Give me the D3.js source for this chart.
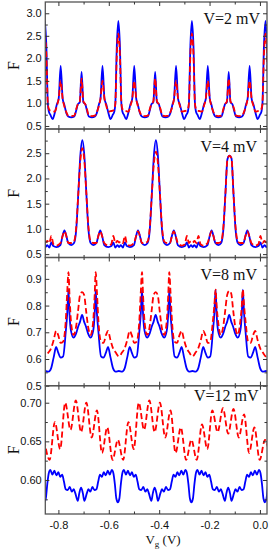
<!DOCTYPE html>
<html>
<head>
<meta charset="utf-8">
<script src="https://cdn.jsdelivr.net/npm/d3@7"></script>
<style>
body { margin: 0; background: #fff; }
</style>
</head>
<body>
<svg id="chart" width="270" height="557"></svg>
<script>
// V = 2 mV
var vg1 = [-0.854, -0.848, -0.842, -0.838, -0.832, -0.823, -0.814, -0.806, -0.799, -0.791, -0.783, -0.777, -0.768, -0.761, -0.749, -0.737, -0.729, -0.723, -0.715, -0.708, -0.701, -0.693, -0.687, -0.679, -0.667, -0.655, -0.648, -0.639, -0.633, -0.625, -0.617, -0.610, -0.602, -0.593, -0.584, -0.578, -0.574, -0.568,
  -0.562, -0.556, -0.550, -0.546, -0.540, -0.531, -0.522, -0.514, -0.507, -0.499, -0.491, -0.485, -0.476, -0.469, -0.457, -0.445, -0.437, -0.431, -0.423, -0.416, -0.409, -0.401, -0.395, -0.387, -0.375, -0.363, -0.356, -0.347, -0.341, -0.333, -0.325, -0.318, -0.310, -0.301, -0.292, -0.286, -0.282, -0.276,
  -0.270, -0.264, -0.258, -0.254, -0.248, -0.239, -0.230, -0.222, -0.215, -0.207, -0.199, -0.193, -0.184, -0.177, -0.165, -0.153, -0.145, -0.139, -0.131, -0.124, -0.117, -0.109, -0.103, -0.095, -0.083, -0.071, -0.064, -0.055, -0.049, -0.041, -0.033, -0.026, -0.018, -0.009, 0.000, 0.006, 0.010, 0.016,
  0.022, 0.028, 0.034];
var blue1 = [2.83, 2.3, 1.0, 0.82, 0.75, 0.65, 0.8, 0.98, 1.1, 1.83, 1.1, 0.98, 0.78, 0.71, 0.69, 0.71, 0.85, 0.98, 1.03, 1.7, 1.03, 0.98, 0.85, 0.71, 0.69, 0.71, 0.78, 0.98, 1.1, 1.83, 1.1, 0.98, 0.8, 0.65, 0.75, 0.82, 1.0, 2.3,
  2.83, 2.3, 1.0, 0.82, 0.75, 0.65, 0.8, 0.98, 1.1, 1.83, 1.1, 0.98, 0.78, 0.71, 0.69, 0.71, 0.85, 0.98, 1.03, 1.7, 1.03, 0.98, 0.85, 0.71, 0.69, 0.71, 0.78, 0.98, 1.1, 1.83, 1.1, 0.98, 0.8, 0.65, 0.75, 0.82, 1.0, 2.3,
  2.83, 2.3, 1.0, 0.82, 0.75, 0.65, 0.8, 0.98, 1.1, 1.83, 1.1, 0.98, 0.78, 0.71, 0.69, 0.71, 0.85, 0.98, 1.03, 1.7, 1.03, 0.98, 0.85, 0.71, 0.69, 0.71, 0.78, 0.98, 1.1, 1.83, 1.1, 0.98, 0.8, 0.65, 0.75, 0.82, 1.0, 2.3,
  2.83, 2.3, 1.0];
var red1 = [2.55, 2.1, 1.0, 0.88, 0.84, 0.83, 0.82, 0.95, 1.1, 1.5, 1.1, 0.95, 0.8, 0.73, 0.72, 0.73, 0.88, 0.98, 1.05, 1.55, 1.05, 0.98, 0.88, 0.73, 0.72, 0.73, 0.8, 0.95, 1.1, 1.5, 1.1, 0.95, 0.82, 0.83, 0.84, 0.88, 1.0, 2.1,
  2.55, 2.1, 1.0, 0.88, 0.84, 0.83, 0.82, 0.95, 1.1, 1.5, 1.1, 0.95, 0.8, 0.73, 0.72, 0.73, 0.88, 0.98, 1.05, 1.55, 1.05, 0.98, 0.88, 0.73, 0.72, 0.73, 0.8, 0.95, 1.1, 1.5, 1.1, 0.95, 0.82, 0.83, 0.84, 0.88, 1.0, 2.1,
  2.55, 2.1, 1.0, 0.88, 0.84, 0.83, 0.82, 0.95, 1.1, 1.5, 1.1, 0.95, 0.8, 0.73, 0.72, 0.73, 0.88, 0.98, 1.05, 1.55, 1.05, 0.98, 0.88, 0.73, 0.72, 0.73, 0.8, 0.95, 1.1, 1.5, 1.1, 0.95, 0.82, 0.83, 0.84, 0.88, 1.0, 2.1,
  2.55, 2.1, 1.0];

// V = 4 mV
var vg2 = [-0.858, -0.851, -0.844, -0.836, -0.828, -0.820, -0.808, -0.792, -0.784, -0.776, -0.768, -0.761, -0.749, -0.738, -0.729, -0.721, -0.713,
  -0.705, -0.697, -0.689, -0.681, -0.672, -0.661, -0.649, -0.642, -0.634, -0.626, -0.618, -0.602, -0.590, -0.582, -0.574, -0.566, -0.559, -0.552, -0.544, -0.536, -0.528, -0.516, -0.500, -0.492, -0.484, -0.476, -0.469, -0.457, -0.446, -0.437, -0.429, -0.421,
  -0.413, -0.405, -0.397, -0.389, -0.380, -0.369, -0.357, -0.350, -0.342, -0.334, -0.326, -0.310, -0.298, -0.290, -0.282, -0.274, -0.267, -0.260, -0.252, -0.244, -0.236, -0.224, -0.208, -0.200, -0.192, -0.184, -0.177, -0.165, -0.154, -0.145, -0.137, -0.129,
  -0.121, -0.113, -0.105, -0.097, -0.088, -0.077, -0.065, -0.058, -0.050, -0.042, -0.034, -0.018, -0.006, 0.002, 0.010, 0.018, 0.025, 0.032];
var blue2 = [0.68, 0.64, 0.68, 0.63, 0.73, 0.66, 0.64, 0.68, 0.85, 0.97, 0.85, 0.72, 0.68, 0.72, 1.0, 1.7, 2.45,
  2.76, 2.45, 1.7, 1.0, 0.72, 0.68, 0.72, 0.85, 0.97, 0.85, 0.68, 0.64, 0.66, 0.73, 0.63, 0.68, 0.64, 0.68, 0.63, 0.73, 0.66, 0.64, 0.68, 0.85, 0.97, 0.85, 0.72, 0.68, 0.72, 1.0, 1.7, 2.45,
  2.76, 2.45, 1.7, 1.0, 0.72, 0.68, 0.72, 0.85, 0.97, 0.85, 0.68, 0.64, 0.66, 0.73, 0.63, 0.68, 0.64, 0.68, 0.63, 0.73, 0.66, 0.64, 0.68, 0.85, 0.97, 0.85, 0.72, 0.68, 0.72, 1.0, 1.7, 2.38,
  2.45, 2.4, 1.7, 1.0, 0.72, 0.68, 0.72, 0.85, 0.97, 0.85, 0.68, 0.64, 0.66, 0.73, 0.63, 0.68, 0.64, 0.68];
var red2 = [0.76, 0.73, 0.76, 0.72, 0.86, 0.7, 0.67, 0.72, 0.85, 0.95, 0.85, 0.72, 0.72, 0.75, 1.05, 1.7, 2.35,
  2.6, 2.35, 1.7, 1.05, 0.75, 0.72, 0.72, 0.85, 0.95, 0.85, 0.72, 0.67, 0.7, 0.86, 0.72, 0.76, 0.73, 0.76, 0.72, 0.86, 0.7, 0.67, 0.72, 0.85, 0.95, 0.85, 0.72, 0.72, 0.75, 1.05, 1.7, 2.3,
  2.53, 2.3, 1.7, 1.05, 0.75, 0.72, 0.72, 0.85, 0.95, 0.85, 0.72, 0.67, 0.7, 0.86, 0.72, 0.76, 0.73, 0.76, 0.72, 0.86, 0.7, 0.67, 0.72, 0.85, 0.95, 0.85, 0.72, 0.72, 0.75, 1.05, 1.7, 2.38,
  2.45, 2.4, 1.7, 1.05, 0.75, 0.72, 0.72, 0.85, 0.95, 0.85, 0.72, 0.67, 0.7, 0.86, 0.72, 0.76, 0.73, 0.76];

// V = 8 mV
var vg3 = [-0.865, -0.852, -0.839, -0.829, -0.819, -0.809, -0.801, -0.791, -0.781, -0.771, -0.765, -0.760, -0.756, -0.750, -0.740, -0.730, -0.722, -0.714,
  -0.706, -0.698, -0.690, -0.682, -0.672, -0.662, -0.656, -0.652, -0.647, -0.641, -0.631, -0.621, -0.611, -0.603, -0.593, -0.583, -0.573, -0.560, -0.547, -0.537, -0.527, -0.517, -0.509, -0.499, -0.489, -0.479, -0.473, -0.468, -0.464, -0.458, -0.448, -0.438, -0.430, -0.422,
  -0.414, -0.406, -0.398, -0.390, -0.380, -0.370, -0.364, -0.360, -0.355, -0.349, -0.339, -0.329, -0.319, -0.311, -0.301, -0.291, -0.281, -0.268, -0.255, -0.245, -0.235, -0.225, -0.217, -0.207, -0.197, -0.187, -0.181, -0.176, -0.172, -0.166, -0.156, -0.146, -0.138, -0.130,
  -0.122, -0.114, -0.106, -0.098, -0.088, -0.078, -0.072, -0.068, -0.063, -0.057, -0.047, -0.037, -0.027, -0.019, -0.009, 0.001, 0.011, 0.024, 0.037];
var blue3 = [0.553, 0.555, 0.553, 0.565, 0.605, 0.645, 0.625, 0.605, 0.61, 0.7, 0.77, 0.86, 0.77, 0.705, 0.68, 0.695, 0.72, 0.74,
  0.765, 0.74, 0.72, 0.695, 0.68, 0.705, 0.77, 0.86, 0.77, 0.7, 0.61, 0.605, 0.625, 0.645, 0.605, 0.565, 0.553, 0.555, 0.553, 0.565, 0.605, 0.645, 0.625, 0.605, 0.61, 0.7, 0.77, 0.86, 0.77, 0.705, 0.68, 0.695, 0.72, 0.74,
  0.765, 0.74, 0.72, 0.695, 0.68, 0.705, 0.77, 0.86, 0.77, 0.7, 0.61, 0.605, 0.625, 0.645, 0.605, 0.565, 0.553, 0.555, 0.553, 0.565, 0.605, 0.645, 0.625, 0.605, 0.61, 0.7, 0.77, 0.86, 0.77, 0.705, 0.68, 0.695, 0.72, 0.74,
  0.765, 0.74, 0.72, 0.695, 0.68, 0.705, 0.77, 0.86, 0.77, 0.7, 0.61, 0.605, 0.625, 0.645, 0.605, 0.565, 0.553, 0.555, 0.553];
var red3 = [0.625, 0.61, 0.625, 0.64, 0.67, 0.705, 0.69, 0.66, 0.665, 0.74, 0.85, 0.925, 0.84, 0.74, 0.69, 0.72, 0.78, 0.84,
  0.85, 0.84, 0.78, 0.72, 0.69, 0.74, 0.84, 0.925, 0.85, 0.74, 0.665, 0.66, 0.69, 0.705, 0.67, 0.64, 0.625, 0.61, 0.625, 0.64, 0.67, 0.705, 0.69, 0.66, 0.665, 0.74, 0.85, 0.925, 0.84, 0.74, 0.69, 0.72, 0.78, 0.84,
  0.85, 0.84, 0.78, 0.72, 0.69, 0.74, 0.84, 0.925, 0.85, 0.74, 0.665, 0.66, 0.69, 0.705, 0.67, 0.64, 0.625, 0.61, 0.625, 0.64, 0.67, 0.705, 0.69, 0.66, 0.665, 0.74, 0.8, 0.86, 0.8, 0.74, 0.69, 0.72, 0.78, 0.84,
  0.855, 0.845, 0.78, 0.72, 0.69, 0.74, 0.8, 0.86, 0.8, 0.74, 0.665, 0.66, 0.69, 0.705, 0.67, 0.64, 0.625, 0.61, 0.625];

// V = 12 mV
var vg4b = [-0.856, -0.850, -0.844, -0.838, -0.832, -0.824, -0.816, -0.808, -0.800, -0.793, -0.785, -0.778, -0.771, -0.763, -0.755, -0.747, -0.739, -0.733, -0.723, -0.717, -0.710, -0.703, -0.697, -0.687, -0.681, -0.673, -0.665, -0.657, -0.649, -0.642, -0.635, -0.627, -0.620, -0.612, -0.604, -0.596, -0.588, -0.582, -0.576, -0.570,
  -0.564, -0.558, -0.552, -0.546, -0.540, -0.532, -0.524, -0.516, -0.508, -0.501, -0.493, -0.486, -0.479, -0.471, -0.463, -0.455, -0.447, -0.441, -0.431, -0.425, -0.418, -0.411, -0.405, -0.395, -0.389, -0.381, -0.373, -0.365, -0.357, -0.350, -0.343, -0.335, -0.328, -0.320, -0.312, -0.304, -0.296, -0.290, -0.284, -0.278,
  -0.272, -0.266, -0.260, -0.254, -0.248, -0.240, -0.232, -0.224, -0.216, -0.209, -0.201, -0.194, -0.187, -0.179, -0.171, -0.163, -0.155, -0.149, -0.139, -0.133, -0.126, -0.119, -0.113, -0.103, -0.097, -0.089, -0.081, -0.073, -0.065, -0.058, -0.051, -0.043, -0.036, -0.028, -0.020, -0.012, -0.004, 0.002, 0.008, 0.014,
  0.020, 0.026, 0.032];
var blue4 = [0.571, 0.576, 0.595, 0.609, 0.613, 0.607, 0.612, 0.606, 0.61, 0.604, 0.607, 0.598, 0.588, 0.587, 0.591, 0.585, 0.588, 0.583, 0.573, 0.583, 0.59, 0.583, 0.573, 0.583, 0.588, 0.585, 0.591, 0.587, 0.588, 0.598, 0.607, 0.604, 0.61, 0.606, 0.612, 0.607, 0.613, 0.609, 0.595, 0.576,
  0.571, 0.576, 0.595, 0.609, 0.613, 0.607, 0.612, 0.606, 0.61, 0.604, 0.607, 0.598, 0.588, 0.587, 0.591, 0.585, 0.588, 0.583, 0.573, 0.583, 0.59, 0.583, 0.573, 0.583, 0.588, 0.585, 0.591, 0.587, 0.588, 0.598, 0.607, 0.604, 0.61, 0.606, 0.612, 0.607, 0.613, 0.609, 0.595, 0.576,
  0.571, 0.576, 0.595, 0.609, 0.613, 0.607, 0.612, 0.606, 0.61, 0.604, 0.607, 0.598, 0.588, 0.587, 0.591, 0.585, 0.588, 0.583, 0.573, 0.583, 0.59, 0.583, 0.573, 0.583, 0.588, 0.585, 0.591, 0.587, 0.588, 0.598, 0.607, 0.604, 0.61, 0.606, 0.612, 0.607, 0.613, 0.609, 0.595, 0.576,
  0.571, 0.576, 0.595];
var vg4r = [-0.856, -0.835, -0.814, -0.793, -0.773, -0.752, -0.731, -0.710, -0.689, -0.668, -0.647, -0.627, -0.606, -0.585,
  -0.564, -0.543, -0.522, -0.501, -0.481, -0.460, -0.439, -0.418, -0.397, -0.376, -0.355, -0.335, -0.314, -0.293,
  -0.272, -0.251, -0.230, -0.209, -0.189, -0.168, -0.147, -0.126, -0.105, -0.084, -0.063, -0.043, -0.022, -0.001,
  0.020, 0.041];
var red4 = [0.652, 0.626, 0.675, 0.64, 0.70, 0.665, 0.703, 0.662, 0.70, 0.655, 0.69, 0.635, 0.668, 0.626,
  0.652, 0.626, 0.675, 0.64, 0.70, 0.665, 0.703, 0.662, 0.70, 0.655, 0.69, 0.635, 0.668, 0.626,
  0.652, 0.626, 0.672, 0.64, 0.69, 0.662, 0.693, 0.66, 0.692, 0.655, 0.685, 0.635, 0.668, 0.626,
  0.652, 0.626];

var xTicks = [-0.8, -0.6, -0.4, -0.2, 0.0];
var xMinor = [-0.7, -0.5, -0.3, -0.1];
var yTicks1 = [0.5, 1.0, 1.5, 2.0, 2.5, 3.0], yMinor1 = [0.75, 1.25, 1.75, 2.25, 2.75];
var yTicks2 = [0.5, 1.0, 1.5, 2.0, 2.5], yMinor2 = [0.75, 1.25, 1.75, 2.25, 2.75];
var yTicks3 = [0.5, 0.6, 0.7, 0.8, 0.9], yMinor3 = [0.55, 0.65, 0.75, 0.85, 0.95];
var yTicks4 = [0.60, 0.65, 0.70], yMinor4 = [0.575, 0.625, 0.675];
var voltLabels = ["V=2 mV", "V=4 mV", "V=8 mV", "V=12 mV"];

var svg = d3.select("#chart");
var left = 45.3, right = 267;

var x = d3.scaleLinear().domain([-0.852, 0.028]).range([left, right]);

var panels = [
  {vgB: vg1, blue: blue1, vgR: vg1, red: red1, dom: [0.433, 3.25], top: 2, bot: 129, ticks: yTicks1, minor: yMinor1, dec: 1, lx: 260, ly: 22},
  {vgB: vg2, blue: blue2, vgR: vg2, red: red2, dom: [0.433, 2.98], top: 129, bot: 257.5, ticks: yTicks2, minor: yMinor2, dec: 1, lx: 257, ly: 22.7},
  {vgB: vg3, blue: blue3, vgR: vg3, red: red3, dom: [0.5, 0.98], top: 257.5, bot: 385.7, ticks: yTicks3, minor: yMinor3, dec: 1, lx: 257, ly: 22.5},
  {vgB: vg4b, blue: blue4, vgR: vg4r, red: red4, dom: [0.556, 0.722], top: 385.7, bot: 514, ticks: yTicks4, minor: yMinor4, dec: 2, lx: 258.5, ly: 15.3}
];

function styleAxis(g) {
  g.select(".domain").remove();
  g.selectAll(".tick line").attr("stroke", "#333").attr("stroke-width", 1);
  g.selectAll(".tick text")
    .attr("fill", "#111")
    .style("font-family", "'Liberation Sans', Arial, sans-serif")
    .style("font-size", "11px");
}

panels.forEach(function(p, i) {
  var y = d3.scaleLinear().domain(p.dom).range([p.bot, p.top]);
  var g = svg.append("g");

  g.append("clipPath").attr("id", "clip" + i)
    .append("rect")
    .attr("x", left).attr("y", p.top)
    .attr("width", right - left).attr("height", p.bot - p.top);

  var line = d3.line()
    .x(function(d) { return x(d[0]); })
    .y(function(d) { return y(d[1]); })
    .curve(d3.curveMonotoneX);

  g.append("path")
    .attr("clip-path", "url(#clip" + i + ")")
    .attr("d", line(d3.zip(p.vgB, p.blue)))
    .attr("fill", "none")
    .attr("stroke", "#0000ff")
    .attr("stroke-width", 1.8);

  g.append("path")
    .attr("clip-path", "url(#clip" + i + ")")
    .attr("d", line(d3.zip(p.vgR, p.red)))
    .attr("fill", "none")
    .attr("stroke", "#ff0000")
    .attr("stroke-width", 1.8)
    .attr("stroke-dasharray", "6,3");

  // frame
  g.append("rect")
    .attr("x", left).attr("y", p.top)
    .attr("width", right - left).attr("height", p.bot - p.top)
    .attr("fill", "none")
    .attr("stroke", "#555")
    .attr("stroke-width", 1.3);

  var last = (i === panels.length - 1);

  g.append("g").attr("transform", "translate(0," + p.bot + ")")
    .call(d3.axisBottom(x).tickValues(xTicks).tickSize(-4).tickPadding(7.2)
      .tickFormat(function(d) { return last ? d.toFixed(1) : ""; }))
    .call(styleAxis);
  g.append("g").attr("transform", "translate(0," + p.bot + ")")
    .call(d3.axisBottom(x).tickValues(xMinor).tickSize(-2.5).tickFormat(""))
    .call(styleAxis);
  g.append("g").attr("transform", "translate(0," + p.top + ")")
    .call(d3.axisTop(x).tickValues(xTicks).tickSize(-4).tickFormat(""))
    .call(styleAxis);
  g.append("g").attr("transform", "translate(0," + p.top + ")")
    .call(d3.axisTop(x).tickValues(xMinor).tickSize(-2.5).tickFormat(""))
    .call(styleAxis);

  g.append("g").attr("transform", "translate(" + left + ",0)")
    .call(d3.axisLeft(y).tickValues(p.ticks).tickSize(-4).tickPadding(3.6)
      .tickFormat(function(d) { return d.toFixed(p.dec); }))
    .call(styleAxis);
  g.append("g").attr("transform", "translate(" + left + ",0)")
    .call(d3.axisLeft(y).tickValues(p.minor).tickSize(-2.5).tickFormat(""))
    .call(styleAxis);
  g.append("g").attr("transform", "translate(" + right + ",0)")
    .call(d3.axisRight(y).tickValues(p.ticks).tickSize(-4).tickFormat(""))
    .call(styleAxis);
  g.append("g").attr("transform", "translate(" + right + ",0)")
    .call(d3.axisRight(y).tickValues(p.minor).tickSize(-2.5).tickFormat(""))
    .call(styleAxis);

  g.append("text")
    .attr("x", p.lx).attr("y", p.top + p.ly)
    .attr("text-anchor", "end")
    .style("font-family", "'Liberation Serif', 'Times New Roman', serif")
    .style("font-size", "16px")
    .attr("fill", "#111")
    .text(voltLabels[i]);

  g.append("text")
    .attr("transform", "translate(19," + ((p.top + p.bot) / 2) + ") rotate(-90)")
    .attr("text-anchor", "middle")
    .style("font-family", "'Liberation Serif', 'Times New Roman', serif")
    .style("font-size", "16px")
    .attr("fill", "#111")
    .text("F");
});

var xl = svg.append("text")
  .attr("x", 163).attr("y", 544)
  .attr("text-anchor", "middle")
  .style("font-family", "'Liberation Serif', 'Times New Roman', serif")
  .style("font-size", "13px")
  .attr("fill", "#111");
xl.append("tspan").text("V");
xl.append("tspan").attr("dy", 3).style("font-size", "9px").text("g");
xl.append("tspan").attr("dy", -3).text("\u00a0(V)");
</script>
</body>
</html>
